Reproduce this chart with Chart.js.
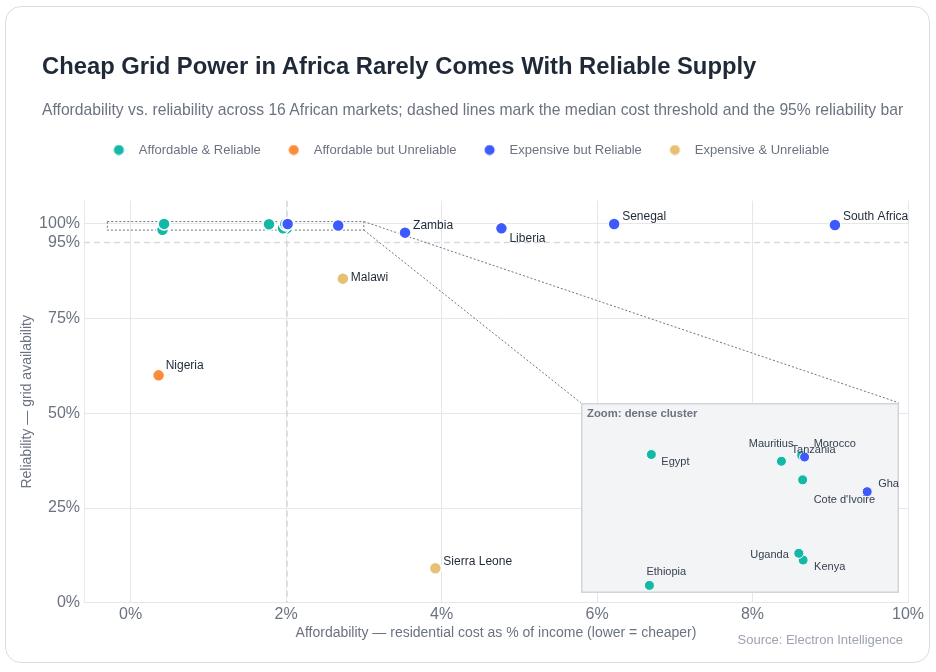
<!DOCTYPE html>
<html>
<head>
<meta charset="utf-8">
<script src="https://cdn.jsdelivr.net/npm/chart.js@4.4.1/dist/chart.umd.min.js"></script>
<style>
  html, body { margin:0; padding:0; background:#ffffff; width:936px; height:672px; overflow:hidden;
    font-family:"Liberation Sans", Arial, Helvetica, sans-serif; }
  #card { position:absolute; left:5px; top:6px; width:923px; height:654.5px; border:1.5px solid #d9dce1;
    border-radius:16px; background:#ffffff; }
  #main { position:absolute; left:0; top:0; }
  #inset { position:absolute; left:581px; top:403px; }
  .txt { position:absolute; white-space:nowrap; }
  #title { left:42px; top:53.6px; font-size:23.8px; line-height:23.8px; font-weight:bold; color:#1f2937; }
  #subtitle { left:42px; top:102.4px; font-size:15.7px; line-height:15.7px; color:#6b7280; }
  #source { right:33px; top:633px; font-size:13px; line-height:13px; color:#9ca3af; }
  #insetTitle { left:587px; top:408px; font-size:11.3px; line-height:11.3px; font-weight:bold; color:#6b7280; }
</style>
</head>
<body>
<div id="card"></div>
<canvas id="main" width="936" height="672"></canvas>
<canvas id="inset" width="318" height="190"></canvas>
<div class="txt" id="title">Cheap Grid Power in Africa Rarely Comes With Reliable Supply</div>
<div class="txt" id="subtitle">Affordability vs. reliability across 16 African markets; dashed lines mark the median cost threshold and the 95% reliability bar</div>
<div class="txt" id="insetTitle">Zoom: dense cluster</div>
<div class="txt" id="source">Source: Electron Intelligence</div>
<script>
// ---------- data ----------
const MARKETS = ['Ethiopia', 'Kenya', 'Uganda', 'Egypt', 'Mauritius', "Cote d'Ivoire", 'Morocco', 'Nigeria',
  'Tanzania', 'Ghana', 'Zambia', 'Liberia', 'Senegal', 'South Africa', 'Malawi', 'Sierra Leone'];
const COST = [0.41, 2.005, 1.96, 0.43, 1.78, 2.00, 1.99, 0.36,
  2.02, 2.67, 3.53, 4.77, 6.22, 9.06, 2.73, 3.92];
const RELIABILITY = [98.34, 98.64, 98.72, 99.89, 99.81, 99.59, 99.88, 59.97,
  99.86, 99.45, 97.58, 98.71, 99.87, 99.60, 85.46, 9.12];
const SEGMENT = [0, 0, 0, 0, 0, 0, 0, 1,
  2, 2, 2, 2, 2, 2, 3, 3];
const SEGMENTS = ['Affordable & Reliable', 'Affordable but Unreliable', 'Expensive but Reliable', 'Expensive & Unreliable'];
const X_TICKS = [0, 2, 4, 6, 8, 10];
const Y_TICKS = [0, 25, 50, 75, 95, 100];
const X_RANGE = [-0.6, 10];
const Y_RANGE = [0, 106];
const RELIABILITY_BAR = 95;
const ZOOM_X = [-0.3, 3.0];
const ZOOM_Y = [98.25, 100.5];

// median cost threshold, derived from the data
const sortedCost = COST.slice().sort((a, b) => a - b);
const MEDIAN_COST = (sortedCost[sortedCost.length / 2 - 1] + sortedCost[sortedCost.length / 2]) / 2;

// ---------- styles ----------
const SEG_COLORS = ['#14b8a6', '#fb8c3a', '#3d5afe', '#e6c173'];
const SEG_ORDER = [3, 2, 0, 1];
const FONT = '"Liberation Sans", Arial, Helvetica, sans-serif';
Chart.defaults.font.family = FONT;
const INSET_BOX = { left: 580.7, top: 402.7, right: 898.7, bottom: 593.3 };

// label placement (align, dx, dy)
const MAIN_LABEL_POS = {
  'Zambia': ['left', 8, -7], 'Liberia': ['left', 8, 10], 'Malawi': ['left', 8, -1],
  'Nigeria': ['left', 7, -10], 'Sierra Leone': ['left', 8, -7], 'Senegal': ['left', 8, -7],
  'South Africa': ['left', 8, -8]
};
const INSET_LABEL_POS = {
  'Egypt': ['left', 10, 7], 'Ethiopia': ['left', -3, -13], 'Mauritius': ['right', 12, -17],
  'Morocco': ['left', 12, -11], 'Tanzania': ['left', -13, -7], "Cote d'Ivoire": ['left', 11, 20],
  'Ghana': ['left', 11, -8], 'Uganda': ['right', -10, 2], 'Kenya': ['left', 11, 7]
};

const inZoom = i => COST[i] >= ZOOM_X[0] && COST[i] <= ZOOM_X[1] && RELIABILITY[i] >= ZOOM_Y[0] && RELIABILITY[i] <= ZOOM_Y[1];

function buildDatasets(filter, radius, bw) {
  return SEGMENTS.map((label, s) => ({
    label,
    order: SEG_ORDER[s],
    data: MARKETS.map((m, i) => ({ x: COST[i], y: RELIABILITY[i], name: m, seg: SEGMENT[i], idx: i }))
      .filter(p => p.seg === s && filter(p.idx)),
    backgroundColor: SEG_COLORS[s],
    borderColor: '#ffffff',
    borderWidth: bw,
    pointRadius: radius,
    pointHoverRadius: radius
  }));
}

// legend dot images (circle in the centre of a wider box)
const LEGEND_DOTS = SEG_COLORS.map(c => {
  const cv = document.createElement('canvas');
  cv.width = 27; cv.height = 11;
  const g = cv.getContext('2d');
  g.fillStyle = c;
  g.beginPath(); g.arc(13.5, 5.5, 5, 0, Math.PI * 2); g.fill();
  return cv;
});

function drawLabels(chart, positions, font, color, filterFn) {
  const ctx = chart.ctx;
  ctx.save();
  ctx.font = font;
  ctx.fillStyle = color;
  ctx.textBaseline = 'middle';
  chart.data.datasets.forEach((ds, d) => {
    const meta = chart.getDatasetMeta(d);
    ds.data.forEach((p, j) => {
      if (!filterFn(p.idx)) return;
      const pos = positions[p.name];
      if (!pos) return;
      const el = meta.data[j];
      ctx.textAlign = pos[0];
      ctx.fillText(p.name, el.x + pos[1], el.y + pos[2]);
    });
  });
  ctx.restore();
}

const legendSpace = {
  id: 'legendSpace',
  beforeInit(chart) {
    const fit = chart.legend.fit;
    chart.legend.fit = function () { fit.bind(chart.legend)(); this.height += 34.2; };
  }
};
const legendCenter = {
  id: 'legendCenter',
  afterLayout(chart) {
    const lg = chart.legend;
    const dx = 467.3 - (lg.left + lg.right) / 2;
    lg.left += dx; lg.right += dx;
  }
};
const guides = {
  id: 'guides',
  beforeDatasetsDraw(chart) {
    const { ctx, chartArea: a, scales: { x, y } } = chart;
    ctx.save();
    // median & reliability bar
    ctx.strokeStyle = '#d6d9de';
    ctx.lineWidth = 1.5;
    ctx.setLineDash([6, 4]);
    const mx = x.getPixelForValue(MEDIAN_COST);
    ctx.beginPath(); ctx.moveTo(mx, a.top); ctx.lineTo(mx, a.bottom); ctx.stroke();
    const ry = y.getPixelForValue(RELIABILITY_BAR);
    ctx.beginPath(); ctx.moveTo(a.left, ry); ctx.lineTo(a.right, ry); ctx.stroke();
    // zoom box
    const bx0 = x.getPixelForValue(ZOOM_X[0]), bx1 = x.getPixelForValue(ZOOM_X[1]);
    const by0 = y.getPixelForValue(ZOOM_Y[1]), by1 = y.getPixelForValue(ZOOM_Y[0]);
    ctx.strokeStyle = '#6b7280';
    ctx.lineWidth = 1;
    ctx.setLineDash([2, 2]);
    ctx.strokeRect(bx0, by0, bx1 - bx0, by1 - by0);
    // connectors
    ctx.beginPath(); ctx.moveTo(bx1, by0); ctx.lineTo(INSET_BOX.right, INSET_BOX.top); ctx.stroke();
    ctx.beginPath(); ctx.moveTo(bx1, by1); ctx.lineTo(INSET_BOX.left, INSET_BOX.top); ctx.stroke();
    ctx.restore();
  },
  afterDatasetsDraw(chart) {
    drawLabels(chart, MAIN_LABEL_POS, '12px ' + FONT, '#1f2937', i => !inZoom(i));
  }
};

new Chart(document.getElementById('main'), {
  type: 'scatter',
  data: { datasets: buildDatasets(() => true, 6, 1.5) },
  options: {
    responsive: false,
    animation: false,
    events: [],
    layout: { autoPadding: false, padding: { top: 124, left: 15, right: 28, bottom: 30.1 } },
    scales: {
      x: {
        type: 'linear', min: X_RANGE[0], max: X_RANGE[1],
        afterBuildTicks(s) { s.ticks = X_TICKS.map(v => ({ value: v })); },
        ticks: { autoSkip: false, padding: 2, color: '#6b7280', font: { size: 16 }, callback: v => v + '%' },
        grid: { color: '#e5e7eb', drawTicks: false },
        border: { color: '#e5e7eb' },
        title: { display: true, text: 'Affordability — residential cost as % of income (lower = cheaper)',
          color: '#6b7280', font: { size: 14 }, padding: { top: -1, bottom: 0 } }
      },
      y: {
        type: 'linear', min: Y_RANGE[0], max: Y_RANGE[1],
        afterBuildTicks(s) { s.ticks = Y_TICKS.map(v => ({ value: v })); },
        ticks: { autoSkip: false, padding: 4, color: '#6b7280', font: { size: 16 }, callback: v => v + '%' },
        grid: { color: c => (c.tick && c.tick.value === RELIABILITY_BAR) ? 'rgba(0,0,0,0)' : '#e5e7eb', drawTicks: false },
        border: { color: '#e5e7eb' },
        title: { display: true, text: 'Reliability — grid availability', color: '#6b7280',
          font: { size: 14 }, padding: { top: 4, bottom: 4 } },
        afterFit(s) { s.width = 69; }
      }
    },
    plugins: {
      legend: {
        position: 'top',
        labels: {
          usePointStyle: true, pointStyleWidth: 27, padding: 19.5, color: '#6b7280', font: { size: 13 },
          sort: (a, b) => a.datasetIndex - b.datasetIndex,
          generateLabels(chart) {
            const items = Chart.defaults.plugins.legend.labels.generateLabels(chart);
            items.forEach(it => { it.pointStyle = LEGEND_DOTS[it.datasetIndex]; });
            return items;
          }
        }
      },
      tooltip: { enabled: false }
    }
  },
  plugins: [legendSpace, legendCenter, guides]
});

// ---------- inset ----------
const insetDeco = {
  id: 'insetDeco',
  beforeDraw(chart) {
    const { ctx, width, height } = chart;
    ctx.save();
    ctx.fillStyle = '#f3f4f6';
    ctx.fillRect(0, 0, width, height);
    ctx.strokeStyle = '#d1d5db';
    ctx.lineWidth = 1.5;
    ctx.strokeRect(0.75, 0.75, width - 1.5, height - 1.5);
    ctx.restore();
  },
  afterDatasetsDraw(chart) {
    drawLabels(chart, INSET_LABEL_POS, '11px ' + FONT, '#374151', i => inZoom(i));
  }
};

new Chart(document.getElementById('inset'), {
  type: 'scatter',
  data: { datasets: buildDatasets(inZoom, 5, 1) },
  options: {
    responsive: false,
    animation: false,
    events: [],
    layout: { autoPadding: false, padding: 0 },
    scales: {
      x: { type: 'linear', display: false, min: ZOOM_X[0], max: ZOOM_X[1] },
      y: { type: 'linear', display: false, min: ZOOM_Y[0], max: ZOOM_Y[1] }
    },
    plugins: { legend: { display: false }, tooltip: { enabled: false } }
  },
  plugins: [insetDeco]
});
</script>
</body>
</html>
